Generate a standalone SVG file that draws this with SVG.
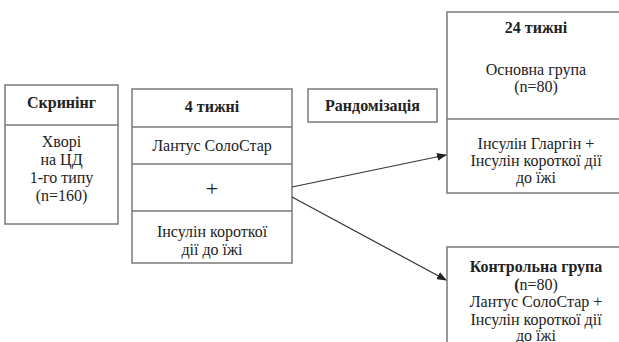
<svg xmlns="http://www.w3.org/2000/svg" width="619" height="342" viewBox="0 0 619 342">
<style>
.box{fill:#fff;stroke:#7a7a7a;stroke-width:1.5}
.div{stroke:#7a7a7a;stroke-width:1.5}
.t{fill:#222;text-anchor:middle;font-family:'Liberation Serif','Times New Roman',serif;font-size:16px}
.b{font-weight:bold}
.p{font-size:22px}
.conn{stroke:#333;stroke-width:1.2;fill:none;marker-end:url(#ah)}
</style>
<defs>
<marker id="ah" markerWidth="10" markerHeight="8" refX="9" refY="4" orient="auto" markerUnits="userSpaceOnUse">
<path d="M0,0 L10,4 L0,8 Z" fill="#222"/>
</marker>
</defs>
<rect width="619" height="342" fill="#fff"/>
<g id="screening">
<rect class="box" x="5" y="85" width="113" height="139"/>
<line class="div" x1="5" y1="125" x2="118" y2="125"/>
<text class="t b" x="61.5" y="108">Скринінг</text>
<text class="t" x="61.5" y="147">Хворі</text>
<text class="t" x="61.5" y="165">на ЦД</text>
<text class="t" x="61.5" y="183">1-го типу</text>
<text class="t" x="61.5" y="201">(n=160)</text>
</g>
<g id="weeks4">
<rect class="box" x="132" y="89" width="160" height="174"/>
<line class="div" x1="132" y1="127" x2="292" y2="127"/>
<line class="div" x1="132" y1="164" x2="292" y2="164"/>
<line class="div" x1="132" y1="211" x2="292" y2="211"/>
<text class="t b" x="212" y="112">4 тижні</text>
<text class="t" x="212" y="151">Лантус СолоСтар</text>
<text class="t p" x="212" y="196">+</text>
<text class="t" x="212" y="237">Інсулін короткої</text>
<text class="t" x="212" y="255">дії до їжі</text>
</g>
<g id="random">
<rect class="box" x="308" y="89" width="129" height="33"/>
<text class="t b" x="372.5" y="111">Рандомізація</text>
</g>
<g id="main">
<rect class="box" x="447" y="12" width="178" height="181"/>
<line class="div" x1="447" y1="119" x2="625" y2="119"/>
<text class="t b" x="536" y="33">24 тижні</text>
<text class="t" x="536" y="75">Основна група</text>
<text class="t" x="536" y="92">(n=80)</text>
<text class="t" x="536" y="149">Інсулін Гларгін  +</text>
<text class="t" x="536" y="166">Інсулін короткої дії</text>
<text class="t" x="536" y="183">до їжі</text>
</g>
<g id="control">
<rect class="box" x="447" y="247" width="178" height="110"/>
<text class="t b" x="536" y="272">Контрольна група</text>
<text class="t" x="536" y="290"><tspan class="b">(</tspan>n=80)</text>
<text class="t" x="536" y="307">Лантус СолоСтар +</text>
<text class="t" x="536" y="325">Інсулін короткої дії</text>
<text class="t" x="536" y="341">до їжі</text>
</g>
<g id="connectors">
<line class="conn" x1="292" y1="187" x2="446" y2="155"/>
<line class="conn" x1="292" y1="197" x2="446" y2="280"/>
</g>
</svg>
